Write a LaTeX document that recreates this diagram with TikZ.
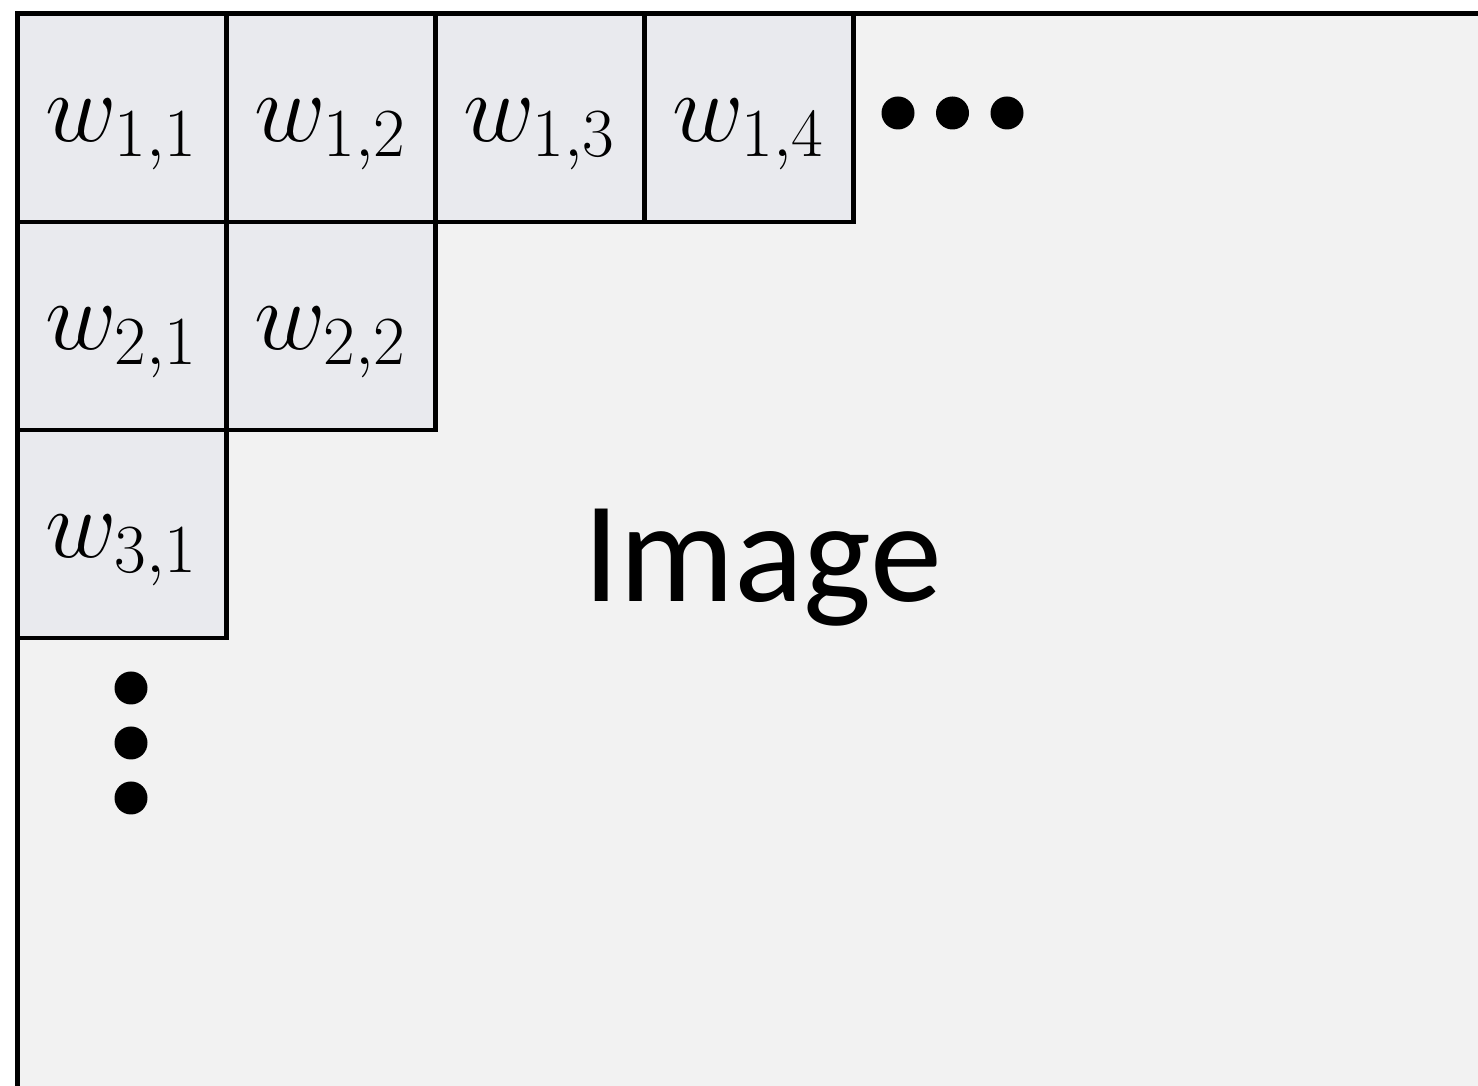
\documentclass[tikz,border=0pt]{standalone}
\usepackage{fix-cm}
\usepackage{fontspec}
\newfontfamily\titlefont{Carlito}
\usetikzlibrary{positioning}

\definecolor{imgbg}{HTML}{F2F2F2}
\definecolor{cellbg}{HTML}{E9EAEE}

\begin{document}
\begin{tikzpicture}[
  cell/.style={
    draw,
    fill=cellbg,
    line width=1.3pt,
    minimum width=2.09cm,
    minimum height=2.08cm,
    inner sep=0pt,
    outer sep=0pt,
    text height=0.68cm,
    text depth=0.2cm,
    font=\fontsize{28}{34}\selectfont
  },
  frame/.style={
    line width=1.3pt,
    line cap=rect
  }
]

\useasboundingbox (0,0) rectangle (14.78,10.86);
\clip (0,0) rectangle (14.78,10.86);

%-----------------------------
% Image area (runs off right and bottom)
%-----------------------------
\coordinate (imgbl) at (0.175,-0.5);
\coordinate (imgtr) at (15.5,10.725);
\fill[imgbg] (imgbl) rectangle (imgtr);

%-----------------------------
% Weight cells
%-----------------------------
\node[cell] (w11) at (1.22,9.68) {$w_{1,1}$};
\node[cell, right=0pt of w11] (w12) {$w_{1,2}$};
\node[cell, right=0pt of w12] (w13) {$w_{1,3}$};
\node[cell, right=0pt of w13] (w14) {$w_{1,4}$};

\node[cell, below=0pt of w11] (w21) {$w_{2,1}$};
\node[cell, right=0pt of w21] (w22) {$w_{2,2}$};

\node[cell, below=0pt of w21] (w31) {$w_{3,1}$};

% continuation dots
\foreach \x in {8.98,9.525,10.07}
  \fill (\x,9.73) circle (0.165);
\foreach \y in {3.98,3.43,2.88}
  \fill (1.31,\y) circle (0.165);

\node[font=\titlefont\fontsize{41}{48}\selectfont, anchor=base] (imgtext) at (7.625,4.84) {Image};

% outer border, left and top only
\draw[frame] (imgbl) |- (imgtr);

\end{tikzpicture}
\end{document}
